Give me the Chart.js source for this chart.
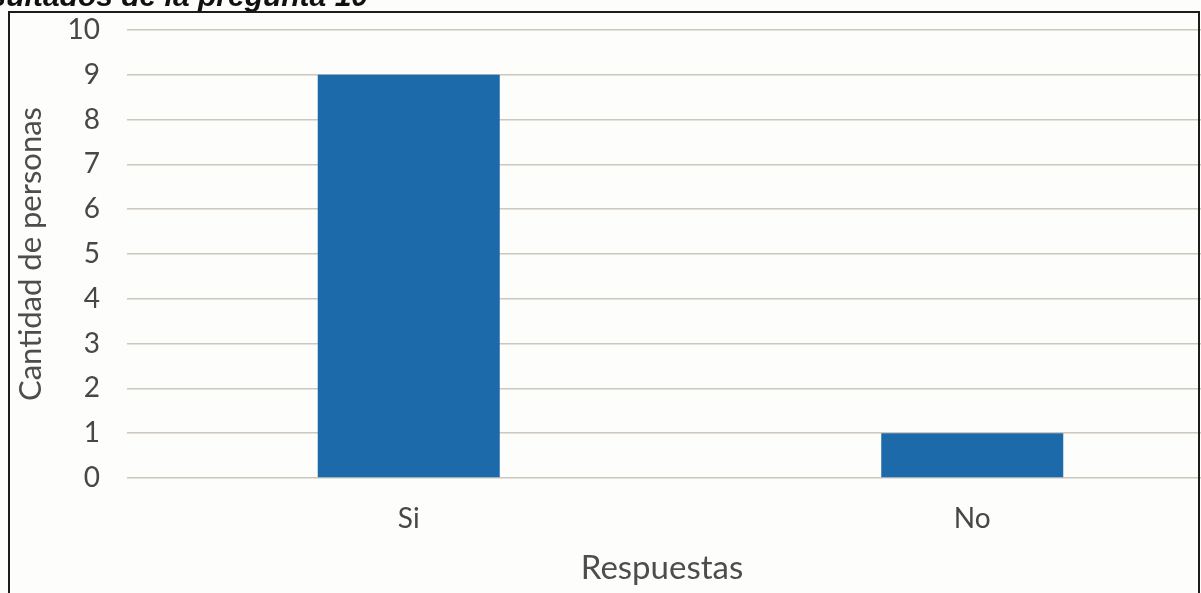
<!DOCTYPE html>
<html>
<head>
<meta charset="utf-8">
<script src="https://cdn.jsdelivr.net/npm/chart.js@4/dist/chart.umd.min.js"></script>
<style>
  html, body { margin: 0; padding: 0; background: #fdfdfb; overflow: hidden; }
  #stage { position: relative; width: 1201px; height: 593px; overflow: hidden; }
  #wrap { position: absolute; left: 0; top: 0; width: 1280px; height: 620px; }
  #frame { position: absolute; left: 8px; top: 11px; width: 1188px; height: 640px;
           border: 2px solid #1c1c1c; pointer-events: none; }
</style>
</head>
<body>
<div id="stage">
  <div id="wrap"><canvas id="c" width="1280" height="620"></canvas></div>
  <div id="frame"></div>
</div>
<script>
// Respuestas a la pregunta 10
const categories = ['Si', 'No'];
const personas = [9, 1];
const yTicks = [0, 1, 2, 3, 4, 5, 6, 7, 8, 9, 10];

const labelFont = "Lato, 'Open Sans', sans-serif";

// Caption above the frame, plus the x-axis title centred under the chart box
const extraText = {
  id: 'extraText',
  afterDraw(chart) {
    const ctx = chart.ctx;
    ctx.save();
    ctx.fillStyle = '#111';
    ctx.font = "italic bold 30px 'Liberation Sans', Arial, sans-serif";
    ctx.textAlign = 'right';
    ctx.textBaseline = 'alphabetic';
    ctx.fillText('Resultados de la pregunta 10', 368, 6);

    ctx.fillStyle = '#4d4d4d';
    ctx.font = '33px ' + labelFont;
    ctx.textAlign = 'center';
    ctx.textBaseline = 'middle';
    ctx.fillText('Respuestas', 662, 568);
    ctx.restore();
  }
};

new Chart(document.getElementById('c'), {
  type: 'bar',
  data: {
    labels: categories,
    datasets: [{
      label: 'Cantidad de personas',
      data: personas,
      backgroundColor: '#1d6aab',
      borderWidth: 0,
      categoryPercentage: 1,
      barPercentage: 0.323
    }]
  },
  options: {
    responsive: false,
    devicePixelRatio: 1,
    animation: false,
    layout: { padding: { left: 0, top: 30, right: 26, bottom: 0 } },
    plugins: {
      legend: { display: false },
      tooltip: { enabled: false }
    },
    scales: {
      x: {
        grid: { display: false },
        border: { display: false },
        ticks: {
          color: '#474747',
          font: { family: labelFont, size: 28 },
          padding: 16
        },
        afterFit(s) { s.height = 142; }
      },
      y: {
        min: 0,
        max: 10,
        afterBuildTicks(s) { s.ticks = yTicks.map(v => ({ value: v })); },
        grid: { color: '#cdc7bd', lineWidth: 1.6, drawTicks: false },
        border: { display: false },
        ticks: {
          color: '#474747',
          font: { family: labelFont, size: 28 },
          padding: 27
        },
        title: {
          display: true,
          text: 'Cantidad de personas',
          color: '#4d4d4d',
          font: { family: labelFont, size: 31 },
          padding: { top: 12, bottom: 0 }
        },
        afterFit(s) {
          s.width = 127;
          s.paddingTop = 0;
          s.paddingBottom = 0;
        }
      }
    }
  },
  plugins: [extraText]
});
</script>
</body>
</html>
